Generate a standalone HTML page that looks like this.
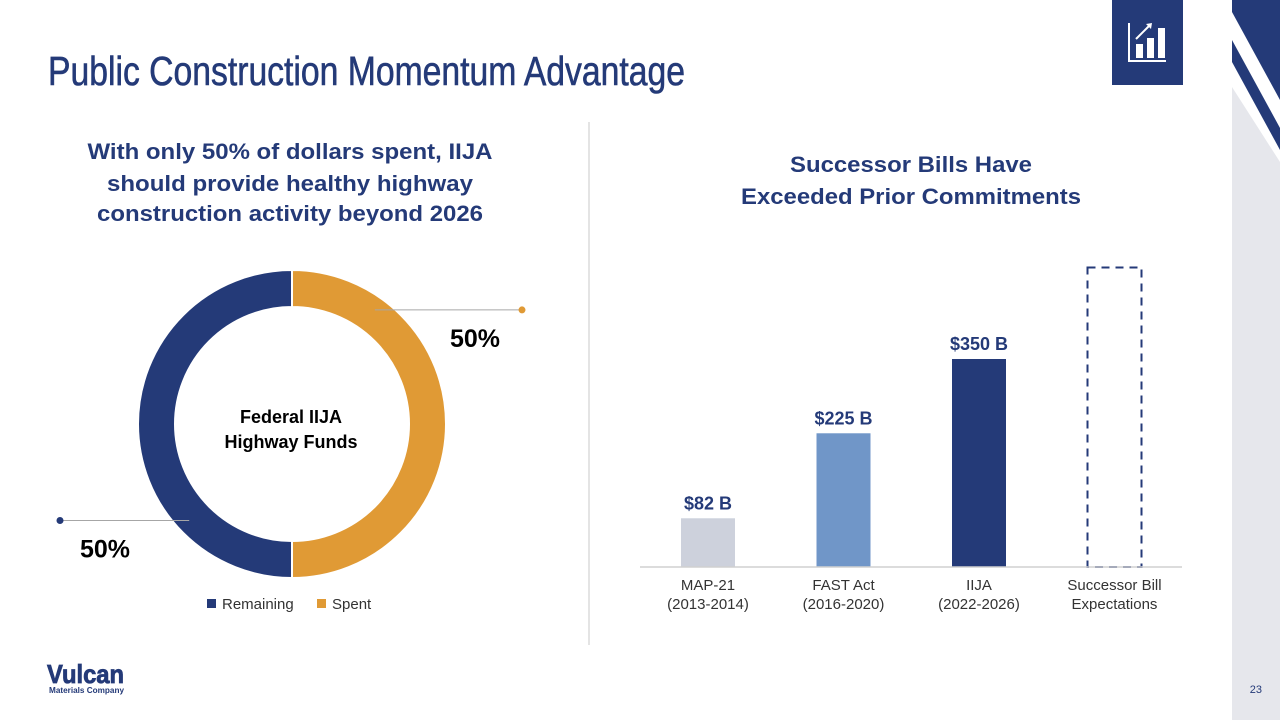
<!DOCTYPE html>
<html><head><meta charset="utf-8"><style>
html,body{margin:0;padding:0;background:#fff;}
svg{display:block;font-family:"Liberation Sans",sans-serif;}
</style></head><body>
<svg width="1280" height="720" viewBox="0 0 1280 720">
  <g>
    <rect x="1232" y="0" width="48" height="720" fill="#e6e7ec"/>
    <polygon points="1232,0 1280,0 1280,162 1232,87" fill="#fff"/>
    <polygon points="1232,0 1280,0 1280,100 1232,12" fill="#243a78"/>
    <polygon points="1232,40 1280,128 1280,150 1232,62" fill="#243a78"/>
  </g>
  <g>
    <rect x="1112" y="0" width="71" height="85" fill="#243a78"/>
    <polyline points="1129,23 1129,61 1166,61" fill="none" stroke="#fff" stroke-width="2"/>
    <rect x="1136" y="44" width="7" height="14" fill="#fff"/>
    <rect x="1147" y="38" width="7" height="20" fill="#fff"/>
    <rect x="1158" y="28" width="7" height="30" fill="#fff"/>
    <line x1="1136" y1="39" x2="1149" y2="26" stroke="#fff" stroke-width="2"/>
    <polygon points="1152,23 1146,24 1151,29" fill="#fff"/>
  </g>

  <text x="48" y="85" font-size="41" fill="#243a78" stroke="#243a78" stroke-width="0.6" textLength="637" lengthAdjust="spacingAndGlyphs">Public Construction Momentum Advantage</text>

  <line x1="589" y1="122" x2="589" y2="645" stroke="#c8c8c8" stroke-width="1"/>

  <g font-weight="bold" font-size="22" fill="#243a78" text-anchor="middle">
    <text x="290" y="159" textLength="405" lengthAdjust="spacingAndGlyphs">With only 50% of dollars spent, IIJA</text>
    <text x="290" y="191" textLength="366" lengthAdjust="spacingAndGlyphs">should provide healthy highway</text>
    <text x="290" y="221" textLength="386" lengthAdjust="spacingAndGlyphs">construction activity beyond 2026</text>
  </g>
  <g id="donut"></g>
  <g font-weight="bold" font-size="18" fill="#000" text-anchor="middle">
    <text x="291" y="423">Federal IIJA</text>
    <text x="291" y="448">Highway Funds</text>
  </g>
  <g font-size="15" fill="#333">
    <rect x="207" y="599" width="9" height="9" fill="#243a78"/>
    <text x="222" y="609">Remaining</text>
    <rect x="317" y="599" width="9" height="9" fill="#e09a35"/>
    <text x="332" y="609">Spent</text>
  </g>

  <g font-weight="bold" font-size="22" fill="#243a78" text-anchor="middle">
    <text x="911" y="172" textLength="242" lengthAdjust="spacingAndGlyphs">Successor Bills Have</text>
    <text x="911" y="204" textLength="340" lengthAdjust="spacingAndGlyphs">Exceeded Prior Commitments</text>
  </g>
  <g id="bars"></g>

  <g>
    <text x="47" y="683" font-size="26" font-weight="bold" fill="#243a78" stroke="#243a78" stroke-width="0.8" textLength="77" lengthAdjust="spacingAndGlyphs">Vulcan</text>
    <text x="49" y="693" font-size="8" font-weight="bold" fill="#243a78" textLength="75" lengthAdjust="spacingAndGlyphs">Materials Company</text>
  </g>
  <text x="1262" y="693" font-size="11" fill="#243a78" text-anchor="end">23</text>
</svg>
<script>
const NS='http://www.w3.org/2000/svg';
function mk(tag,attrs,parent,txt){const e=document.createElementNS(NS,tag);for(const k in attrs)e.setAttribute(k,attrs[k]);if(txt!==undefined)e.textContent=txt;parent.appendChild(e);return e;}

const sliceNames=['Spent','Remaining'];
const sliceValues=[50,50];
const sliceLabels=['50%','50%'];
const sliceColors=['#e09a35','#243a78'];

const donut=document.getElementById('donut');
const cx=292,cy=424,ro=154,ri=117;
const total=sliceValues.reduce((a,b)=>a+b,0);
let ang=0;
sliceValues.forEach((v,i)=>{
  const a0=ang, a1=ang+v/total*2*Math.PI; ang=a1;
  const p=(r,a)=>[cx+r*Math.sin(a), cy-r*Math.cos(a)];
  const large=(a1-a0)>Math.PI?1:0;
  const [x0,y0]=p(ro,a0),[x1,y1]=p(ro,a1),[x2,y2]=p(ri,a1),[x3,y3]=p(ri,a0);
  const path=mk('path',{d:`M${x0},${y0} A${ro},${ro} 0 ${large} 1 ${x1},${y1} L${x2},${y2} A${ri},${ri} 0 ${large} 0 ${x3},${y3} Z`,fill:sliceColors[i],stroke:'#fff','stroke-width':2},donut);
  
  
  const mid=(a0+a1)/2;
  const right=Math.sin(mid)>0;
  const [lx,ly]=p(141, right? a0+(a1-a0)*0.2 : a0+(a1-a0)*0.26);
  const ex= right? 522 : 60;
  const ln=mk('line',{x1:lx,y1:ly,x2:ex,y2:ly,stroke:'#a6a6a6','stroke-width':1},donut);
  
  
  const dot=mk('circle',{cx:ex,cy:ly,r:3.5,fill:sliceColors[i]},donut);
  
  
  const t=mk('text',{x:right?500:130,y:ly+37,'font-size':25,'font-weight':'bold',fill:'#000','text-anchor':'end'},donut,sliceLabels[i]);
  
  
});

const barCategories=[['MAP-21','(2013-2014)'],['FAST Act','(2016-2020)'],['IIJA','(2022-2026)'],['Successor Bill','Expectations']];
const barValues=[82,225,350,504];
const barLabels=['$82 B','$225 B','$350 B',''];
const barColors=['#cdd1dc','#7096c8','#243a78','none'];

const bars=document.getElementById('bars');
const base=567, pxPer=208/350, x0=708, step=135.5, bw=54;
const yS=v=>base-v*pxPer;
const xS=i=>x0+i*step;
barValues.forEach((v,i)=>{
  const dashed=barColors[i]==='none';
  const r=mk('rect',{x:xS(i)-bw/2,y:yS(v),width:bw,height:base-yS(v),fill:dashed?'none':barColors[i]},bars);
  if(dashed){r.setAttribute('stroke','#243a78');r.setAttribute('stroke-width','2');r.setAttribute('stroke-dasharray','8,6');}
  
  
  if(barLabels[i]){
    const t=mk('text',{x:xS(i),y:yS(v)-9,'font-size':18,'font-weight':'bold',fill:'#243a78','text-anchor':'middle'},bars,barLabels[i]);
    
    
  }
  const g=mk('text',{x:xS(i),y:590,'font-size':15,fill:'#333','text-anchor':'middle'},bars);
  
  
  mk('tspan',{x:xS(i),dy:0},g,barCategories[i][0]);
  mk('tspan',{x:xS(i),dy:19},g,barCategories[i][1]);
});
const ax=mk('line',{x1:640,y1:base,x2:1182,y2:base,stroke:'#d0d0d0','stroke-width':1.5},bars);


</script>
</body></html>
